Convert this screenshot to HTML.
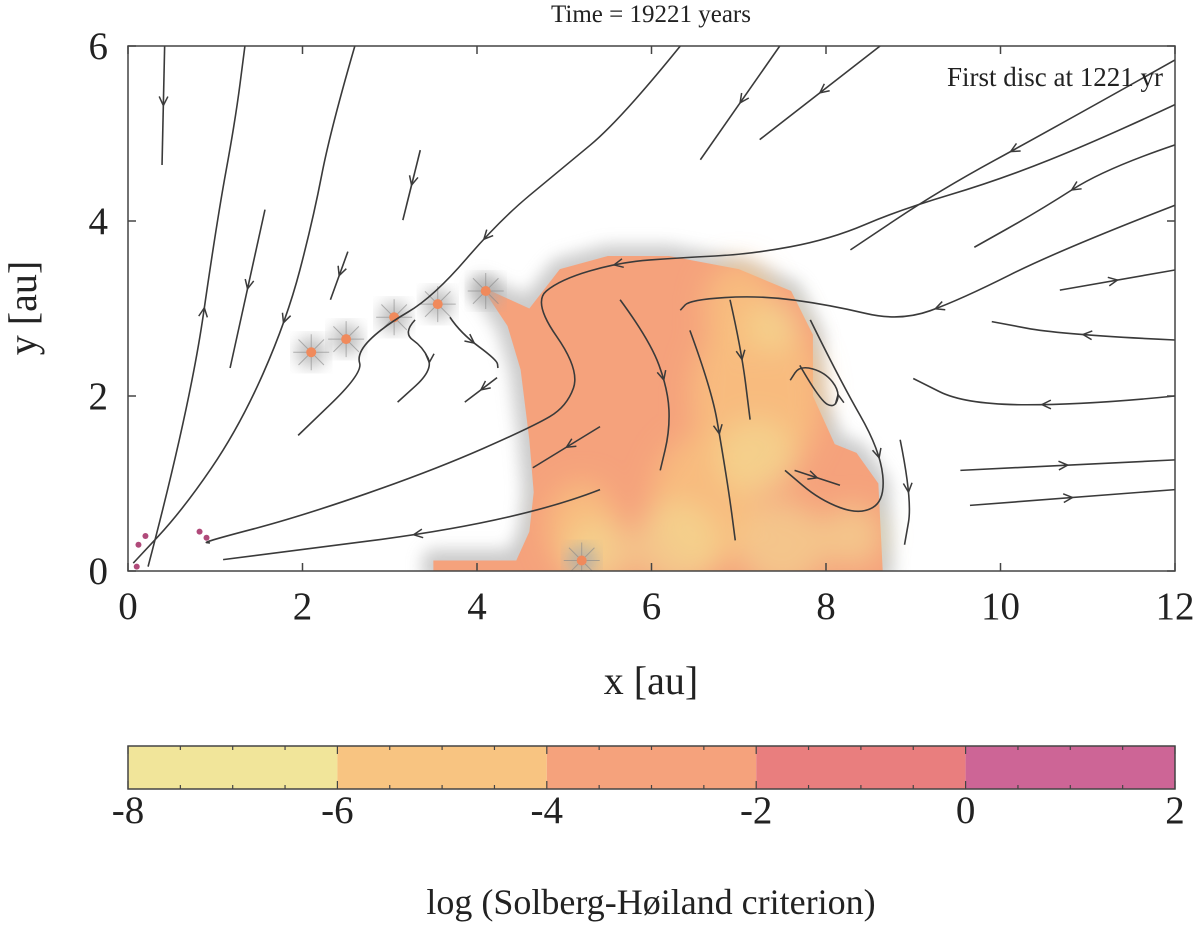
<!DOCTYPE html>
<html><head><meta charset="utf-8"><style>
html,body{margin:0;padding:0;background:#fff;}
svg{display:block;font-family:"Liberation Serif",serif;}
</style></head><body>
<svg id="chart" width="1200" height="943" viewBox="0 0 1200 943" xmlns="http://www.w3.org/2000/svg">
<defs>
<filter id="blurEdge" x="-20%" y="-20%" width="140%" height="140%"><feGaussianBlur stdDeviation="8"/></filter>
<filter id="blurIn" x="-30%" y="-30%" width="160%" height="160%"><feGaussianBlur stdDeviation="14"/></filter>
<clipPath id="plotClip"><rect x="128" y="46" width="1047" height="525"/></clipPath>
</defs>
<text x="651" y="22" font-size="25" text-anchor="middle" fill="#222">Time = 19221 years</text>
<g id="plot" clip-path="url(#plotClip)"></g>
<g id="axes"></g>
<text x="1163" y="86" font-size="27" text-anchor="end" fill="#222">First disc at 1221 yr</text>
<text x="651" y="694" font-size="40" text-anchor="middle" fill="#222">x [au]</text>
<text transform="translate(36,308) rotate(-90)" font-size="40" text-anchor="middle" fill="#222">y [au]</text>
<g id="cbar"></g>
<text x="651" y="914" font-size="36" text-anchor="middle" fill="#222">log (Solberg-Høiland criterion)</text>
</svg>
<script>
const xTicks=[0,2,4,6,8,10,12];
const yTicks=[0,2,4,6];
const cbTicks=[-8,-6,-4,-2,0,2];
const cbColors=["#f1e59a","#f8c481","#f5a27c","#e97e7e","#cd6596"];
const blob=[[3.5,0],[3.5,0.12],[4.45,0.12],[4.6,0.45],[4.65,0.9],[4.6,1.5],[4.5,2.3],[4.35,2.8],[4.05,3.25],[4.6,3.0],[4.95,3.45],[5.5,3.6],[6.2,3.6],[7.0,3.45],[7.6,3.2],[7.85,2.7],[7.85,2.0],[8.1,1.45],[8.35,1.35],[8.6,1.0],[8.65,0]];
const yellowSpots=[[7.2,1.3,0.45],[6.3,0.3,0.5],[7.5,0.3,0.5],[8.3,0.4,0.35],[5.4,0.2,0.4],[7.4,2.8,0.3]];
const warmZones=[[7.2,2.0,0.75],[6.6,0.8,0.6],[5.2,0.5,0.4],[7.0,3.0,0.4]];
const stars=[[2.1,2.5],[2.5,2.65],[3.05,2.9],[3.55,3.05],[4.1,3.2],[5.2,0.12]];
const lines=[
[[0.42,6.0],[0.39,4.64]],
[[0.23,0.05],[0.71,1.87],[1.02,4.01],[1.23,5.15],[1.34,6.0]],
[[1.57,4.13],[1.17,2.32]],
[[2.6,6],[2.32,5.04],[2.12,4.01],[1.82,2.87],[1.28,1.65],[0.63,0.7],[0.06,0.09]],
[[2.52,3.65],[2.32,3.1]],
[[3.35,4.81],[3.15,4.01]],
[[6.33,6],[5.64,5.15],[4.95,4.58],[4.26,4.01],[3.5,3.13],[2.92,2.79],[2.62,2.49],[2.69,2.26],[1.95,1.55]],
[[3.29,2.87],[3.15,2.72],[3.38,2.56],[3.5,2.3],[3.09,1.93]],
[[3.69,2.9],[3.81,2.72],[4.23,2.41],[4.24,2.32]],
[[4.23,2.21],[3.86,1.93]],
[[12,5.33],[11.14,4.93],[9.99,4.47],[8.85,4.13],[8.05,3.79],[7.13,3.62],[6.33,3.58],[5.64,3.53],[4.95,3.33],[4.64,3.07],[5.18,2.3],[5.03,1.88],[4.64,1.65],[3.5,1.15],[1.97,0.62],[0.86,0.33],[0.94,0.32]],
[[5.41,1.65],[4.64,1.18]],
[[5.41,0.93],[4.46,0.56],[1.09,0.13]],
[[12,4.18],[10.68,3.67],[9.54,3.1],[8.85,2.85],[8.05,3.04],[7.24,3.15],[6.44,3.1],[6.33,2.98]],
[[5.64,3.1],[5.98,2.64],[6.19,2.07],[6.21,1.61],[6.1,1.15]],
[[6.44,2.75],[6.69,2.07],[6.81,1.38],[6.9,0.81],[6.96,0.35]],
[[6.9,3.1],[7.03,2.53],[7.13,1.73]],
[[7.7,2.35],[7.93,1.95],[8.1,1.86],[8.16,2.05],[7.99,2.27],[7.7,2.35],[7.59,2.18]],
[[7.82,2.87],[8.16,2.18],[8.62,1.38],[8.68,0.81],[8.39,0.64],[7.93,0.81],[7.53,1.15]],
[[7.64,1.15],[8.16,0.98]],
[[8.85,1.5],[8.99,0.81],[8.9,0.3]],
[[12,2.0],[11,1.9],[9.6,1.9],[9.0,2.2]],
[[12,2.64],[10.7,2.7],[9.9,2.85]],
[[9.54,1.15],[12,1.27]],
[[9.65,0.75],[12,0.93]],
[[12,4.87],[11.2,4.6],[10.45,4.12],[9.7,3.7]],
[[10.68,3.21],[12,3.44]],
[[12,5.84],[10.57,5.04],[9.3,4.35],[8.28,3.67]],
[[7.47,6],[6.56,4.7]],
[[8.62,6],[7.24,4.93]]
];
const X0=128,X1=1175,Y0=571,Y1=46;
const sx=v=>X0+(v-0)/12*(X1-X0);
const sy=v=>Y0-(v-0)/6*(Y0-Y1);
const CB0=128,CB1=1175,CBY=746,CBH=43;
const cx=v=>CB0+(v+8)/10*(CB1-CB0);
const NS="http://www.w3.org/2000/svg";
function mk(tag,attrs,parent){const e=document.createElementNS(NS,tag);for(const k in attrs)e.setAttribute(k,attrs[k]);parent.appendChild(e);return e;}
const plot=document.getElementById('plot'),axes=document.getElementById('axes'),cbar=document.getElementById('cbar');
const bpts=blob.map(p=>sx(p[0])+','+sy(p[1])).join(' ');
const halo=mk('polygon',{points:bpts,fill:'#a8a8a8',stroke:'#a8a8a8','stroke-width':22,'stroke-linejoin':'round',filter:'url(#blurEdge)',opacity:0.6},plot);


const bl=mk('polygon',{points:bpts,fill:'#f5a27c'},plot);


const gIn=mk('g',{filter:'url(#blurIn)'},plot);
warmZones.forEach(z=>{const e=mk('ellipse',{cx:sx(z[0]),cy:sy(z[1]),rx:z[2]*87,ry:z[2]*87*1.3,fill:'#f8bf7f',opacity:0.85},gIn);

});
yellowSpots.forEach(z=>{const e=mk('circle',{cx:sx(z[0]),cy:sy(z[1]),r:z[2]*87,fill:'#f3dc95',opacity:0.6},gIn);

});
stars.forEach(s=>{const g=mk('g',{},plot);


mk('circle',{cx:sx(s[0]),cy:sy(s[1]),r:15,fill:'#aaa',filter:'url(#blurEdge)',opacity:0.8},g);
for(let a=0;a<8;a++){const t=a*Math.PI/4;mk('line',{x1:sx(s[0]),y1:sy(s[1]),x2:sx(s[0])+18*Math.cos(t),y2:sy(s[1])+18*Math.sin(t),stroke:'#888','stroke-width':1,opacity:0.6},g);}
mk('circle',{cx:sx(s[0]),cy:sy(s[1]),r:5,fill:'#f08a5c'},g);});
[[0.12,0.3],[0.2,0.4],[0.1,0.05],[0.82,0.45],[0.9,0.38]].forEach(p=>{const e=mk('circle',{cx:sx(p[0]),cy:sy(p[1]),r:3,fill:'#b04a7a'},plot);

});
lines.forEach((ln,i)=>{const pts=ln.map(p=>[sx(p[0]),sy(p[1])]);
let d='M'+pts[0][0]+','+pts[0][1];
for(let k=1;k<pts.length;k++){if(k<pts.length-1){const mx=(pts[k][0]+pts[k+1][0])/2,my=(pts[k][1]+pts[k+1][1])/2;d+=' Q'+pts[k][0]+','+pts[k][1]+' '+mx+','+my;}else d+=' L'+pts[k][0]+','+pts[k][1];}
const p=mk('path',{d:d,fill:'none',stroke:'#3a3a3a','stroke-width':1.6},plot);


const L=p.getTotalLength();const a=p.getPointAtLength(L*0.5),b=p.getPointAtLength(Math.min(L,L*0.5+4));
const ang=Math.atan2(b.y-a.y,b.x-a.x);const s=10;
const ar=mk('path',{d:`M${a.x-s*Math.cos(ang-0.45)},${a.y-s*Math.sin(ang-0.45)} L${a.x},${a.y} L${a.x-s*Math.cos(ang+0.45)},${a.y-s*Math.sin(ang+0.45)}`,fill:'none',stroke:'#3a3a3a','stroke-width':1.5},plot);

});
const fr=mk('rect',{x:X0,y:Y1,width:X1-X0,height:Y0-Y1,fill:'none',stroke:'#444','stroke-width':1.5},axes);


xTicks.forEach(v=>{mk('line',{x1:sx(v),y1:Y0,x2:sx(v),y2:Y0-8,stroke:'#444','stroke-width':1.5},axes);mk('line',{x1:sx(v),y1:Y1,x2:sx(v),y2:Y1+8,stroke:'#444','stroke-width':1.5},axes);
const t=mk('text',{x:sx(v),y:619,'font-size':39,'text-anchor':'middle',fill:'#222'},axes);t.textContent=v;

});
yTicks.forEach(v=>{mk('line',{x1:X0,y1:sy(v),x2:X0+8,y2:sy(v),stroke:'#444','stroke-width':1.5},axes);mk('line',{x1:X1,y1:sy(v),x2:X1-8,y2:sy(v),stroke:'#444','stroke-width':1.5},axes);
const t=mk('text',{x:108,y:sy(v)+13,'font-size':39,'text-anchor':'end',fill:'#222'},axes);t.textContent=v;

});
cbColors.forEach((c,i)=>{const r=mk('rect',{x:cx(-8+2*i),y:CBY,width:cx(-6+2*i)-cx(-8+2*i),height:CBH,fill:c},cbar);

});
const cf=mk('rect',{x:CB0,y:CBY,width:CB1-CB0,height:CBH,fill:'none',stroke:'#444','stroke-width':1.5},cbar);


for(let v=-8;v<=2.001;v+=0.5){const major=Math.abs(v-Math.round(v/2)*2)<0.01;const h=major?8:4;
mk('line',{x1:cx(v),y1:CBY+CBH,x2:cx(v),y2:CBY+CBH-h,stroke:'#444','stroke-width':1.2},cbar);
mk('line',{x1:cx(v),y1:CBY,x2:cx(v),y2:CBY+h,stroke:'#444','stroke-width':1.2},cbar);}
cbTicks.forEach(v=>{const t=mk('text',{x:cx(v),y:823,'font-size':39,'text-anchor':'middle',fill:'#222'},cbar);t.textContent=v;

});
</script>
</body></html>
